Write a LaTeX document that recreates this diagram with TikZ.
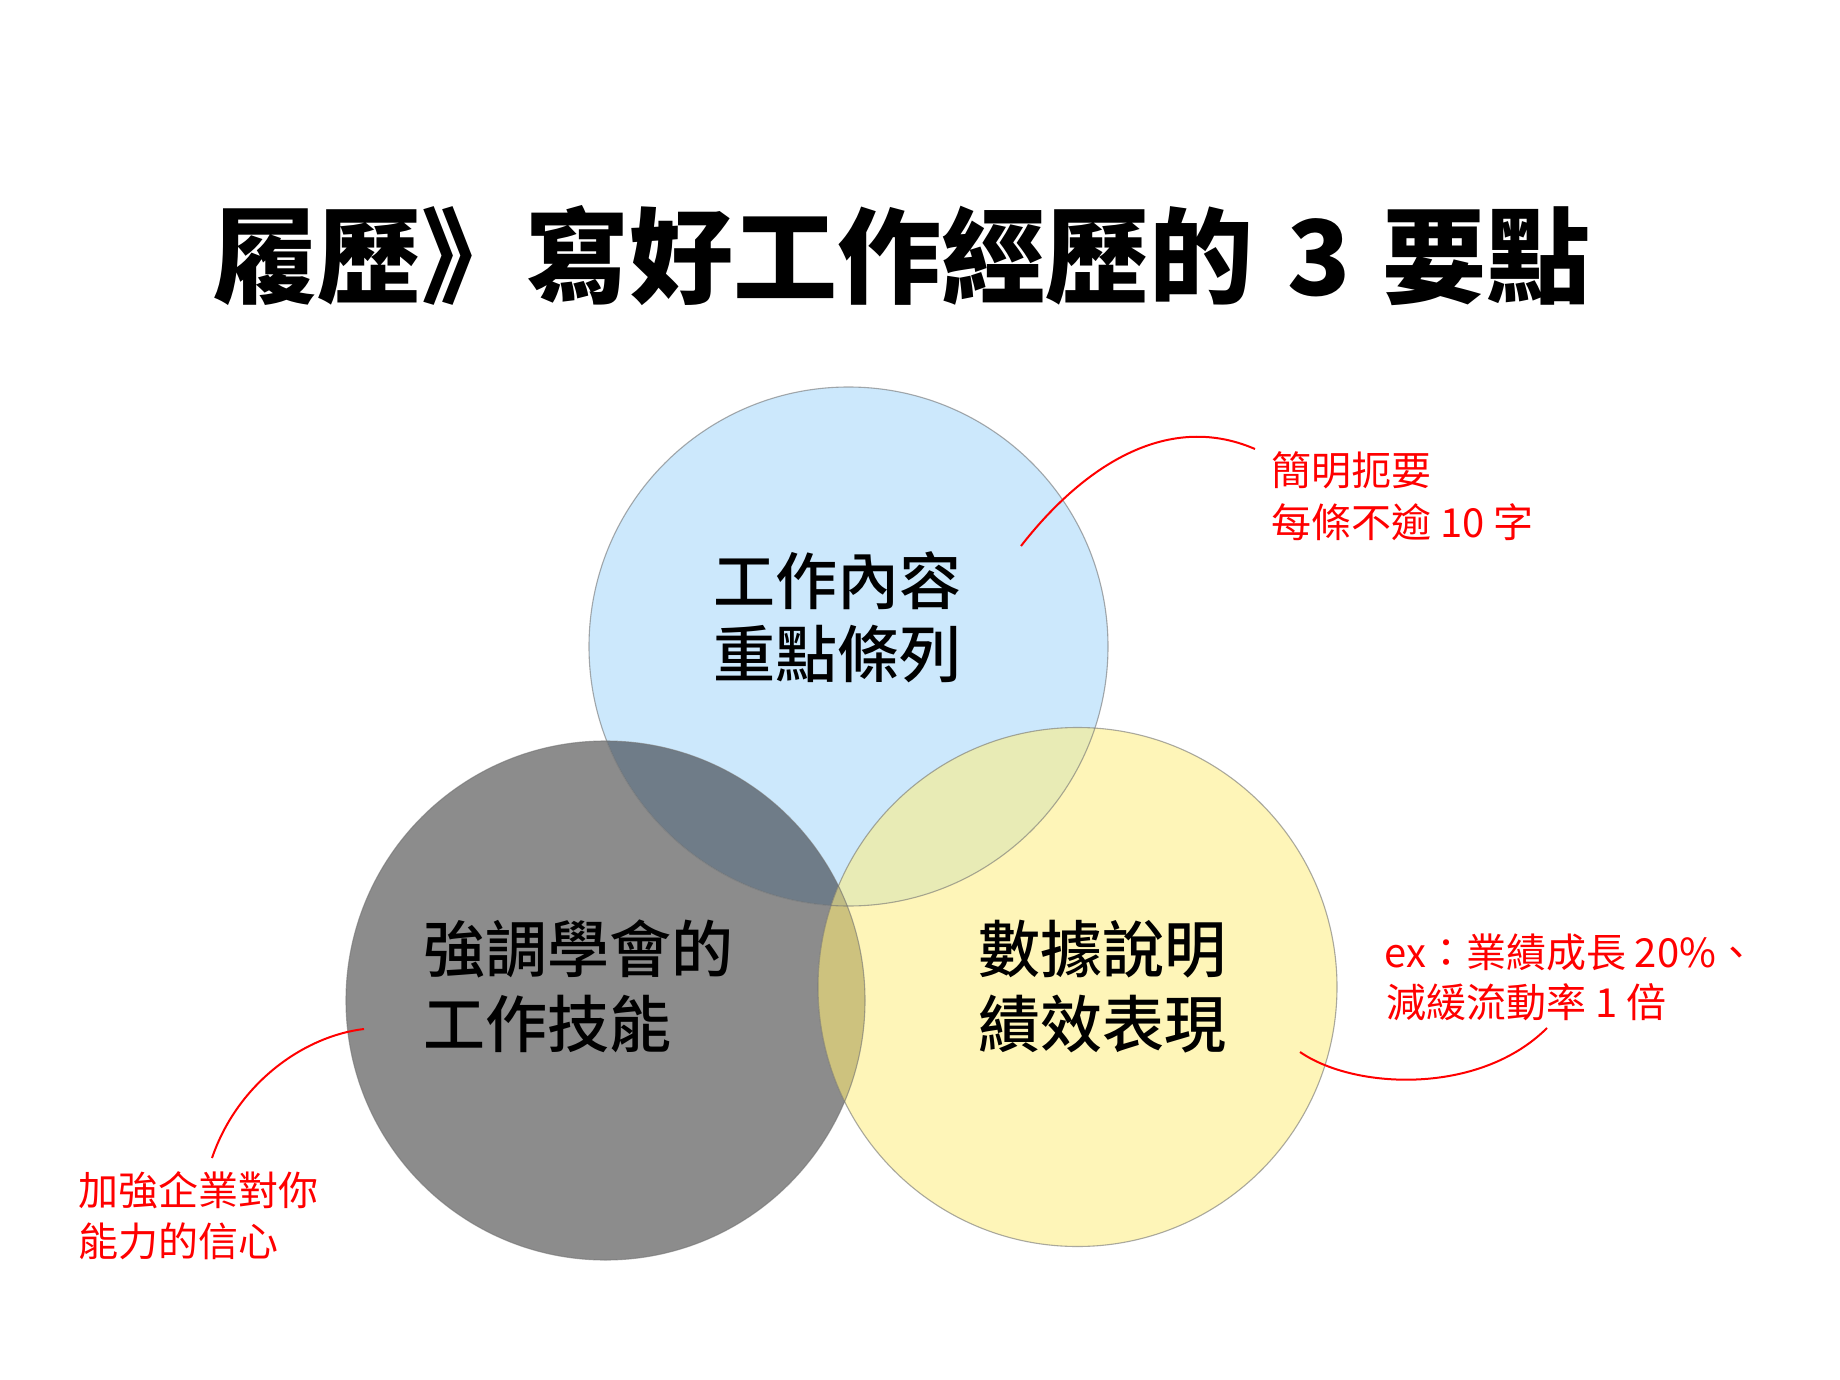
\documentclass[tikz,border=0pt]{standalone}
\usepackage{fontspec}
\newfontfamily\cjk{Noto Sans CJK TC}
\newfontfamily\cjkmed{Noto Sans CJK TC Medium}
\newfontfamily\cjkblack{Noto Sans CJK TC Black}
\definecolor{cgray}{RGB}{140,140,140}
\definecolor{cblue}{RGB}{204,232,252}
\definecolor{cyellow}{RGB}{254,245,184}
\definecolor{cbg}{RGB}{111,124,136}
\definecolor{cyb}{RGB}{232,235,181}
\definecolor{cyg}{RGB}{205,194,126}
\definecolor{cyby}{RGB}{192,188,132}
\definecolor{cred}{RGB}{255,0,0}
\tikzset{
  titletext/.style={font=\cjkblack\fontsize{104}{114}\selectfont, anchor=base, inner sep=0pt},
  maintext/.style={font=\cjkmed\fontsize{62}{75}\selectfont, inner sep=0pt},
  notetext/.style={font=\cjk\fontsize{40}{50}\selectfont, text=cred, anchor=base west, inner sep=0pt},
  ring/.style={draw=black!55, draw opacity=0.6, line width=1.1pt},
  noteline/.style={draw=cred, line width=2pt},
}
\begin{document}
\begin{tikzpicture}[x=1pt,y=-1pt]
\useasboundingbox (0,0) rectangle (1840,1380);
\fill[white] (0,0) rectangle (1840,1380);
% circle centres
\coordinate (ctop) at (848.5,646.5);
\coordinate (cleft) at (605.5,1000.5);
\coordinate (cright) at (1077.5,987);
\def\R{259.5pt}
% base fills
\fill[cgray] (cleft) circle[radius=\R];
\fill[cblue] (ctop) circle[radius=\R];
\fill[cyellow] (cright) circle[radius=\R];
% overlaps
\begin{scope}
  \clip (ctop) circle[radius=\R];
  \fill[cbg] (cleft) circle[radius=\R];
\end{scope}
\begin{scope}
  \clip (cright) circle[radius=\R];
  \fill[cyb] (ctop) circle[radius=\R];
\end{scope}
\begin{scope}
  \clip (cright) circle[radius=\R];
  \fill[cyg] (cleft) circle[radius=\R];
\end{scope}
\begin{scope}
  \clip (cright) circle[radius=\R];
  \clip (ctop) circle[radius=\R];
  \fill[cyby] (cleft) circle[radius=\R];
\end{scope}
% outlines
\draw[ring] (cleft) circle[radius=\R];
\draw[ring] (ctop) circle[radius=\R];
\draw[ring] (cright) circle[radius=\R];
% title
\node[titletext] (title) at (902,296) {履歷》寫好工作經歷的\hspace{34pt}3\hspace{32pt}要點};
% circle texts
\node[maintext, anchor=base] (t1) at (837,604) {工作內容};
\node[maintext, anchor=base] (t2) at (837,677) {重點條列};
\node[maintext, anchor=base west] (l1) at (423,972) {強調學會的};
\node[maintext, anchor=base west] (l2) at (423,1047) {工作技能};
\node[maintext, anchor=base west] (r1) at (978,972) {數據說明};
\node[maintext, anchor=base west] (r2) at (978,1047) {績效表現};
% notes
\node[notetext] (n1a) at (1271,485) {簡明扼要};
\node[notetext] (n1b) at (1271,537) {每條不逾 10 字};
\node[notetext] (n2a) at (1384,967) {ex：業績成長 20\%、};
\node[notetext] (n2b) at (1386,1017) {減緩流動率 1 倍};
\node[notetext] (n3a) at (78,1205) {加強企業對你};
\node[notetext] (n3b) at (78,1256) {能力的信心};
% note connectors
\coordinate (a1s) at (1021,546);
\coordinate (a1e) at (1255,449);
\coordinate (a2s) at (1300,1052);
\coordinate (a2e) at (1547,1028);
\coordinate (a3s) at (364,1029);
\coordinate (a3e) at (212,1158);
\draw[noteline] (a1s) .. controls (1080,470) and (1165,410) .. (a1e);
\draw[noteline] (a2s) .. controls (1355,1090) and (1480,1095) .. (a2e);
\draw[noteline] (a3s) .. controls (305,1036) and (238,1082) .. (a3e);
\end{tikzpicture}
\end{document}
